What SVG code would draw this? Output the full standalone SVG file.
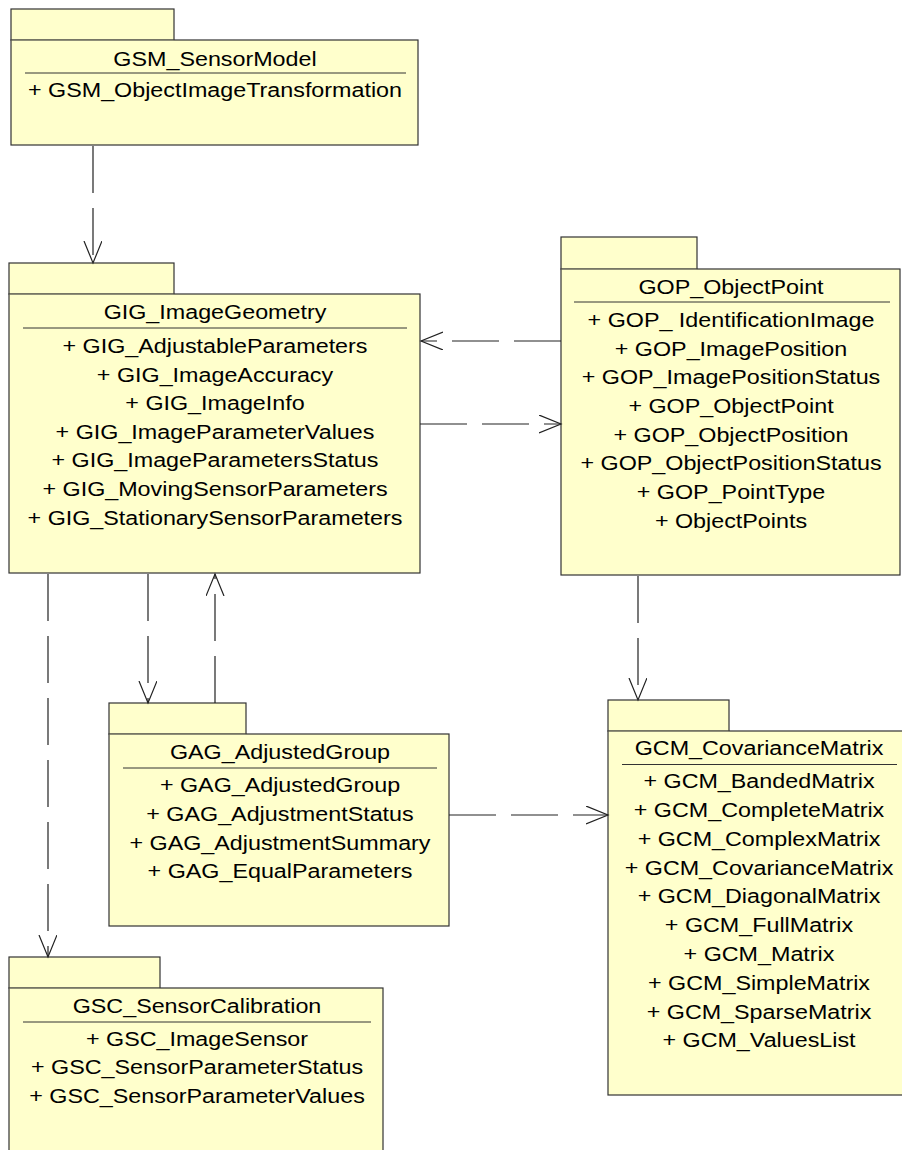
<svg xmlns="http://www.w3.org/2000/svg" width="902" height="1150" viewBox="0 0 902 1150">
  <style>
    .pkg { fill: #FFFFCC; stroke: #333333; stroke-width: 1.2; }
    .seam { stroke: #9A9A80; stroke-width: 1; }
    .div { stroke: #333333; stroke-width: 1; }
    .conn { fill: none; stroke: #222222; stroke-width: 1.2; stroke-dasharray: 47 15; marker-end: url(#open); }
    text { font-family: "Liberation Sans", Arial, Helvetica, sans-serif; font-size: 21px; fill: #000000; text-anchor: middle; }
  </style>
  <defs>
    <!-- open "V" arrowhead for dependency arrows -->
    <marker id="open" markerUnits="userSpaceOnUse" markerWidth="26" markerHeight="22" refX="22" refY="9" orient="auto">
      <path d="M0,0 L22,9 L0,18" fill="none" stroke="#222222" stroke-width="1.2" stroke-dasharray="none"/>
    </marker>
  </defs>

  <rect width="902" height="1150" fill="#FFFFFF"/>

  <!-- package: GSM_SensorModel -->
  <g id="GSM_SensorModel">
    <rect class="pkg" x="11" y="9" width="163" height="31"/>
    <rect class="pkg" x="11" y="40" width="407" height="105"/>
    <line class="seam" x1="11.5" y1="40" x2="173.5" y2="40"/>
    <line class="div" x1="25" y1="73" x2="406" y2="73"/>
    <g transform="translate(215 0) scale(1.11 1)">
      <text x="0" y="66">GSM_SensorModel</text>
      <text x="0" y="97">+ GSM_ObjectImageTransformation</text>
    </g>
  </g>

  <!-- package: GIG_ImageGeometry -->
  <g id="GIG_ImageGeometry">
    <rect class="pkg" x="9" y="263" width="165" height="31"/>
    <rect class="pkg" x="9" y="294" width="411" height="279"/>
    <line class="seam" x1="9.5" y1="294" x2="173.5" y2="294"/>
    <line class="div" x1="23" y1="328" x2="407" y2="328"/>
    <g transform="translate(215 0) scale(1.11 1)">
      <text x="0" y="319">GIG_ImageGeometry</text>
      <text x="0" y="353">+ GIG_AdjustableParameters</text>
      <text x="0" y="382">+ GIG_ImageAccuracy</text>
      <text x="0" y="410.5">+ GIG_ImageInfo</text>
      <text x="0" y="439.5">+ GIG_ImageParameterValues</text>
      <text x="0" y="467.5">+ GIG_ImageParametersStatus</text>
      <text x="0" y="496.5">+ GIG_MovingSensorParameters</text>
      <text x="0" y="525">+ GIG_StationarySensorParameters</text>
    </g>
  </g>

  <!-- package: GOP_ObjectPoint -->
  <g id="GOP_ObjectPoint">
    <rect class="pkg" x="561" y="237" width="136" height="32"/>
    <rect class="pkg" x="561" y="269" width="339" height="306"/>
    <line class="seam" x1="561.5" y1="269" x2="696.5" y2="269"/>
    <line class="div" x1="574" y1="302" x2="890" y2="302"/>
    <g transform="translate(731 0) scale(1.11 1)">
      <text x="0" y="294">GOP_ObjectPoint</text>
      <text x="0" y="327">+ GOP_ IdentificationImage</text>
      <text x="0" y="356">+ GOP_ImagePosition</text>
      <text x="0" y="384.5">+ GOP_ImagePositionStatus</text>
      <text x="0" y="413">+ GOP_ObjectPoint</text>
      <text x="0" y="442">+ GOP_ObjectPosition</text>
      <text x="0" y="470.5">+ GOP_ObjectPositionStatus</text>
      <text x="0" y="499.5">+ GOP_PointType</text>
      <text x="0" y="528.5">+ ObjectPoints</text>
    </g>
  </g>

  <!-- package: GAG_AdjustedGroup -->
  <g id="GAG_AdjustedGroup">
    <rect class="pkg" x="109" y="703" width="137" height="31"/>
    <rect class="pkg" x="109" y="734" width="340" height="192"/>
    <line class="seam" x1="109.5" y1="734" x2="245.5" y2="734"/>
    <line class="div" x1="123" y1="768" x2="437" y2="768"/>
    <g transform="translate(280 0) scale(1.11 1)">
      <text x="0" y="759">GAG_AdjustedGroup</text>
      <text x="0" y="792.5">+ GAG_AdjustedGroup</text>
      <text x="0" y="821">+ GAG_AdjustmentStatus</text>
      <text x="0" y="850">+ GAG_AdjustmentSummary</text>
      <text x="0" y="878.5">+ GAG_EqualParameters</text>
    </g>
  </g>

  <!-- package: GSC_SensorCalibration -->
  <g id="GSC_SensorCalibration">
    <rect class="pkg" x="9" y="957" width="151" height="31"/>
    <rect class="pkg" x="9" y="988" width="374" height="180"/>
    <line class="seam" x1="9.5" y1="988" x2="159.5" y2="988"/>
    <line class="div" x1="23" y1="1022" x2="371" y2="1022"/>
    <g transform="translate(197 0) scale(1.11 1)">
      <text x="0" y="1013">GSC_SensorCalibration</text>
      <text x="0" y="1046">+ GSC_ImageSensor</text>
      <text x="0" y="1074.5">+ GSC_SensorParameterStatus</text>
      <text x="0" y="1103">+ GSC_SensorParameterValues</text>
    </g>
  </g>

  <!-- package: GCM_CovarianceMatrix -->
  <g id="GCM_CovarianceMatrix">
    <rect class="pkg" x="608" y="700" width="121" height="31"/>
    <rect class="pkg" x="608" y="731" width="310" height="364"/>
    <line class="seam" x1="608.5" y1="731" x2="728.5" y2="731"/>
    <line class="div" x1="622" y1="764.5" x2="897" y2="764.5"/>
    <g transform="translate(759 0) scale(1.11 1)">
      <text x="0" y="755">GCM_CovarianceMatrix</text>
      <text x="0" y="788.5">+ GCM_BandedMatrix</text>
      <text x="0" y="817.5">+ GCM_CompleteMatrix</text>
      <text x="0" y="846.5">+ GCM_ComplexMatrix</text>
      <text x="0" y="875">+ GCM_CovarianceMatrix</text>
      <text x="0" y="903.5">+ GCM_DiagonalMatrix</text>
      <text x="0" y="932.5">+ GCM_FullMatrix</text>
      <text x="0" y="961.5">+ GCM_Matrix</text>
      <text x="0" y="990.5">+ GCM_SimpleMatrix</text>
      <text x="0" y="1019">+ GCM_SparseMatrix</text>
      <text x="0" y="1047.5">+ GCM_ValuesList</text>
    </g>
  </g>

  <!-- dependency connectors -->
  <g id="connectors">
    <path class="conn" d="M93,146 L93,263"/>
    <path class="conn" d="M561,341 L421,341"/>
    <path class="conn" d="M420,424 L561,424"/>
    <path class="conn" d="M148,574 L148,703"/>
    <path class="conn" d="M215,703 L215,574"/>
    <path class="conn" d="M48,574 L48,957"/>
    <path class="conn" d="M638,576 L638,700"/>
    <path class="conn" d="M449,815 L608,815"/>
  </g>
</svg>
